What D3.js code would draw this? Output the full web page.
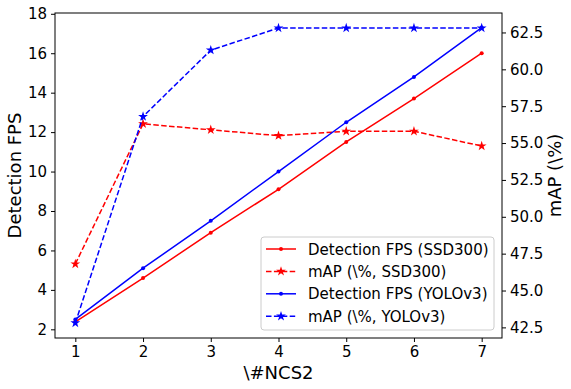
<!DOCTYPE html>
<html>
  <head>
    <meta charset="utf-8">
    <title>FPS vs NCS2</title>
    <script src="https://cdn.jsdelivr.net/npm/d3@7"></script>
    <style>
      body { margin: 0; background: #fff; }
      text { font-family: "DejaVu Sans", sans-serif; fill: #000; }
    </style>
  </head>
  <body>
    <svg id="chart" width="571" height="389"></svg>
    <script>
// data
var ncs = [1, 2, 3, 4, 5, 6, 7];
var fpsSSD = [2.38, 4.6, 6.9, 9.1, 11.5, 13.7, 16.0];
var mapSSD = [46.8, 56.3, 55.9, 55.5, 55.8, 55.8, 54.8];
var fpsYOLO = [2.5, 5.1, 7.5, 10.0, 12.5, 14.8, 17.3];
var mapYOLO = [42.8, 56.8, 61.3, 62.8, 62.8, 62.8, 62.8];
var leftTicks = [2, 4, 6, 8, 10, 12, 14, 16, 18];
var rightTicks = [42.5, 45.0, 47.5, 50.0, 52.5, 55.0, 57.5, 60.0, 62.5];
var legendLabels = ["Detection FPS (SSD300)", "mAP (\\%, SSD300)", "Detection FPS (YOLOv3)", "mAP (\\%, YOLOv3)"];

var plotL = 55, plotR = 502, plotT = 13, plotB = 338;
var svg = d3.select("#chart");

var x = d3.scaleLinear().domain([0.7, 7.3]).range([plotL, plotR]);
var yL = d3.scaleLinear().domain([1.56, 18.04]).range([plotB, plotT]);
var yR = d3.scaleLinear().domain([41.78, 63.82]).range([plotB, plotT]);

// axes
function styleAxis(g) {
  g.selectAll("text").style("font-size", "15px").style("font-family", "DejaVu Sans").attr("fill", "#000");
  g.selectAll("line").attr("stroke", "#000");
  g.select(".domain").remove();
}
svg.append("g").attr("transform", "translate(0," + plotB + ")")
  .call(d3.axisBottom(x).tickValues(ncs).tickFormat(d3.format("d")).tickSize(4).tickPadding(4))
  .call(styleAxis);
svg.append("g").attr("transform", "translate(" + plotL + ",0)")
  .call(d3.axisLeft(yL).tickValues(leftTicks).tickFormat(d3.format("d")).tickSize(4).tickPadding(4))
  .call(styleAxis);
svg.append("g").attr("transform", "translate(" + plotR + ",0)")
  .call(d3.axisRight(yR).tickValues(rightTicks).tickFormat(d3.format(".1f")).tickSize(4).tickPadding(4))
  .call(styleAxis);

svg.append("rect").attr("x", plotL).attr("y", plotT).attr("width", plotR - plotL).attr("height", plotB - plotT)
  .attr("fill", "none").attr("stroke", "#000").attr("stroke-width", 1);

// axis labels
svg.append("text").attr("transform", "translate(" + x(4) + ",379)").attr("text-anchor", "middle")
  .style("font-size", "18px").text("\\#NCS2");
svg.append("text").attr("transform", "translate(21," + ((plotT + plotB) / 2) + ") rotate(-90)").attr("text-anchor", "middle")
  .style("font-size", "18px").text("Detection FPS");
svg.append("text").attr("transform", "translate(561," + ((plotT + plotB) / 2) + ") rotate(-90)").attr("text-anchor", "middle")
  .style("font-size", "18px").text("mAP (\\%)");

var star = d3.symbol().type(d3.symbolStar).size(30);

function drawSeries(vals, yScale, color, dashed) {
  var pts = ncs.map(function(n, i) { return [x(n), yScale(vals[i])]; });
  svg.append("path").attr("d", d3.line()(pts)).attr("fill", "none").attr("stroke", color)
    .attr("stroke-width", 1.5).attr("stroke-dasharray", dashed ? "5.5,2.4" : null);
  var g = svg.append("g");
  pts.forEach(function(p) {
    if (dashed) {
      g.append("path").attr("d", star).attr("transform", "translate(" + p[0] + "," + p[1] + ")").attr("fill", color);
    } else {
      g.append("circle").attr("cx", p[0]).attr("cy", p[1]).attr("r", 2).attr("fill", color);
    }
  });
}
drawSeries(fpsSSD, yL, "red", false);
drawSeries(mapSSD, yR, "red", true);
drawSeries(fpsYOLO, yL, "blue", false);
drawSeries(mapYOLO, yR, "blue", true);

// legend
var lg = svg.append("g");
lg.append("rect").attr("x", 261).attr("y", 237).attr("width", 233).attr("height", 93).attr("rx", 3)
  .attr("fill", "#fff").attr("fill-opacity", 0.8).attr("stroke", "#ccc");
var legColors = ["red", "red", "blue", "blue"];
legendLabels.forEach(function(lab, i) {
  var yy = 249 + i * 22.4;
  var dashed = i % 2 === 1;
  lg.append("line").attr("x1", 266).attr("x2", 296).attr("y1", yy).attr("y2", yy)
    .attr("stroke", legColors[i]).attr("stroke-width", 1.5).attr("stroke-dasharray", dashed ? "5.5,2.4" : null);
  if (dashed) {
    lg.append("path").attr("d", star).attr("transform", "translate(281," + yy + ")").attr("fill", legColors[i]);
  } else {
    lg.append("circle").attr("cx", 281).attr("cy", yy).attr("r", 2).attr("fill", legColors[i]);
  }
  lg.append("text").attr("x", 308).attr("y", yy + 5.5).style("font-size", "15px").text(lab);
});
    </script>
  </body>
</html>
